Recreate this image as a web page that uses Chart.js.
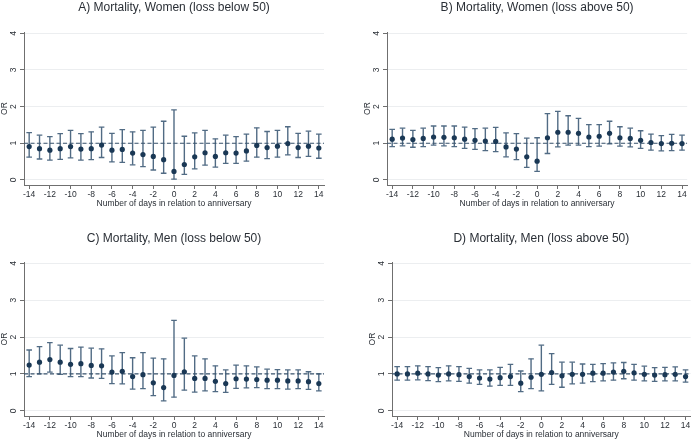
<!DOCTYPE html>
<html><head><meta charset="utf-8">
<script src="https://cdn.jsdelivr.net/npm/chart.js@4.4.0/dist/chart.umd.min.js"></script>
<style>
html,body{margin:0;padding:0;background:#fff;width:696px;height:440px;overflow:hidden;position:relative}
canvas{position:absolute}
</style></head><body>
<canvas id="cA"></canvas><canvas id="cB"></canvas><canvas id="cC"></canvas><canvas id="cD"></canvas>
<script>
const days = [-14,-13,-12,-11,-10,-9,-8,-7,-6,-5,-4,-3,-2,-1,0,1,2,3,4,5,6,7,8,9,10,11,12,13,14];
const xTickLabels = [-14,-12,-10,-8,-6,-4,-2,0,2,4,6,8,10,12,14];
const yTickLabels = [0,1,2,3,4];
const refOR = 1;
const xAxisTitle = 'Number of days in relation to anniversary';
const yAxisTitle = 'OR';
const titles = ['A) Mortality, Women (loss below 50)','B) Mortality, Women (loss above 50)','C) Mortality, Men (loss below 50)','D) Mortality, Men (loss above 50)'];

const orA = [0.91,0.85,0.81,0.85,0.91,0.84,0.85,0.95,0.81,0.83,0.73,0.69,0.64,0.55,0.23,0.42,0.63,0.74,0.64,0.74,0.73,0.79,0.94,0.88,0.92,0.99,0.88,0.92,0.87];
const loA = [0.62,0.57,0.54,0.56,0.60,0.54,0.55,0.61,0.49,0.48,0.41,0.36,0.27,0.18,0.02,0.15,0.30,0.40,0.35,0.45,0.45,0.51,0.62,0.58,0.62,0.68,0.61,0.64,0.59];
const hiA = [1.29,1.22,1.18,1.26,1.35,1.26,1.31,1.44,1.27,1.37,1.31,1.35,1.44,1.60,1.91,1.19,1.28,1.35,1.12,1.22,1.18,1.25,1.42,1.32,1.35,1.45,1.27,1.33,1.25];

const orB = [1.11,1.14,1.10,1.13,1.17,1.16,1.15,1.11,1.08,1.06,1.05,0.90,0.84,0.63,0.51,1.15,1.30,1.30,1.27,1.17,1.19,1.27,1.15,1.13,1.08,1.02,0.99,1.00,0.99];
const loB = [0.91,0.93,0.89,0.91,0.95,0.93,0.91,0.86,0.83,0.80,0.77,0.63,0.55,0.34,0.23,0.72,0.90,0.95,0.95,0.91,0.92,0.98,0.92,0.90,0.86,0.81,0.79,0.80,0.81];
const hiB = [1.38,1.41,1.35,1.41,1.47,1.47,1.47,1.44,1.40,1.41,1.43,1.28,1.26,1.14,1.15,1.81,1.87,1.75,1.68,1.51,1.51,1.60,1.45,1.41,1.34,1.25,1.21,1.24,1.22];

const orC = [1.24,1.32,1.39,1.32,1.26,1.28,1.23,1.22,1.05,1.07,0.93,0.98,0.76,0.63,0.96,1.06,0.88,0.88,0.80,0.74,0.87,0.86,0.85,0.83,0.83,0.81,0.81,0.79,0.74];
const loC = [0.93,1.00,1.05,0.99,0.93,0.93,0.89,0.88,0.74,0.73,0.59,0.60,0.41,0.27,0.37,0.56,0.51,0.54,0.52,0.50,0.61,0.62,0.63,0.60,0.60,0.59,0.60,0.58,0.54];
const hiC = [1.65,1.74,1.85,1.78,1.69,1.73,1.70,1.68,1.49,1.58,1.44,1.58,1.43,1.41,2.45,1.97,1.49,1.41,1.22,1.11,1.24,1.22,1.19,1.13,1.12,1.11,1.11,1.06,1.00];

const orD = [1.00,1.00,1.02,1.00,0.97,1.00,0.98,0.93,0.89,0.86,0.90,0.93,0.75,0.91,0.99,1.04,0.95,0.99,0.99,1.02,1.02,1.05,1.07,1.03,0.99,0.97,0.98,0.99,0.93];
const loD = [0.83,0.83,0.84,0.82,0.79,0.81,0.80,0.75,0.72,0.67,0.69,0.69,0.52,0.60,0.54,0.72,0.64,0.73,0.75,0.79,0.81,0.83,0.87,0.83,0.81,0.80,0.81,0.81,0.78];
const hiD = [1.20,1.20,1.22,1.20,1.17,1.22,1.20,1.15,1.11,1.11,1.18,1.26,1.08,1.41,1.78,1.55,1.32,1.32,1.27,1.26,1.28,1.30,1.31,1.26,1.21,1.17,1.18,1.19,1.11];

const FONT = "'Liberation Sans', Arial, sans-serif";
const TXT = '#2a2f36';
const AXIS = '#6f6f6f';
const MARK = '#1a3855';
const CI = '#516b84';
const DASH = '#3a546d';
const X_MIN = -14.5, X_MAX = 14.5, Y_MIN = -0.14, Y_MAX = 4.03;

function makeChart(id, geo, title, orv, lov, hiv) {
  const cv = document.getElementById(id);
  cv.width = geo.w; cv.height = geo.h;
  cv.style.left = geo.left + 'px'; cv.style.top = geo.top + 'px';
  const pts = days.map((d, i) => ({x: d, y: orv[i]}));
  const caps = [];
  const stems = [];
  days.forEach((d, i) => {
    caps.push({x: d, y: lov[i]}); caps.push({x: d, y: hiv[i]});
    stems.push({x: d, y: lov[i]}); stems.push({x: d, y: hiv[i]}); stems.push({x: d, y: null});
  });
  return new Chart(cv, {
    type: 'scatter',
    data: { datasets: [
      { type: 'scatter', data: pts, pointRadius: 2.6, pointBackgroundColor: MARK, pointBorderWidth: 0, order: 0 },
      { type: 'line', data: [{x: X_MIN, y: refOR}, {x: X_MAX, y: refOR}], borderColor: DASH, borderWidth: 1.2, borderDash: [4, 2.5], pointRadius: 0, order: 1 },
      { type: 'scatter', data: caps, pointStyle: 'line', pointRadius: 2.8, pointBorderColor: CI, pointBorderWidth: 1.3, order: 2 },
      { type: 'line', data: stems, borderColor: CI, borderWidth: 1.4, pointRadius: 0, spanGaps: false, order: 3 }
    ]},
    options: {
      responsive: false, animation: false, devicePixelRatio: 1,
      events: [],
      layout: { padding: { left: 0, right: geo.padR, top: 0, bottom: 0 } },
      plugins: {
        legend: { display: false }, tooltip: { enabled: false },
        title: { display: true, text: title, color: TXT, fullSize: false,
          font: { family: FONT, size: 12, weight: 'normal' }, padding: { top: 0, bottom: geo.titlePB } }
      },
      scales: {
        x: {
          type: 'linear', min: X_MIN, max: X_MAX,
          afterBuildTicks: s => { s.ticks = xTickLabels.map(v => ({value: v})); },
          afterFit: s => { s.height = 30; },
          ticks: { color: TXT, font: { family: FONT, size: 8.5 }, padding: 1, autoSkip: false, maxRotation: 0, minRotation: 0,
                   callback: v => String(v) },
          grid: { display: true, drawOnChartArea: false, drawTicks: true, tickLength: 4, tickColor: AXIS, tickWidth: 1 },
          border: { display: true, color: AXIS, width: 1 },
          title: { display: true, text: xAxisTitle, color: TXT, font: { family: FONT, size: 8.5 }, padding: { top: 0, bottom: 6.4 } }
        },
        y: {
          type: 'linear', min: Y_MIN, max: Y_MAX,
          afterBuildTicks: s => { s.ticks = yTickLabels.map(v => ({value: v})); },
          afterFit: s => { s.width = 24; },
          ticks: { color: TXT, font: { family: FONT, size: 8.5 }, padding: 4, autoSkip: false, minRotation: 90, maxRotation: 90,
                   crossAlign: 'center', callback: v => String(v) },
          grid: { display: true, drawOnChartArea: true, color: '#eceef0', lineWidth: 1, drawTicks: true, tickLength: 4, tickColor: AXIS, tickWidth: 1 },
          border: { display: true, color: AXIS, width: 1 },
          title: { display: true, text: yAxisTitle, color: TXT, font: { family: FONT, size: 8.5 }, padding: { top: 0, bottom: 0 } }
        }
      }
    }
  });
}

makeChart('cA', {left: 0, top: 0, w: 348, h: 215, padR: 24, titlePB: 17.8}, titles[0], orA, loA, hiA);
makeChart('cB', {left: 363, top: 0, w: 333, h: 215, padR: 8.8, titlePB: 17.8}, titles[1], orB, loB, hiB);
makeChart('cC', {left: 0, top: 231, w: 348, h: 215, padR: 24, titlePB: 16.8}, titles[2], orC, loC, hiC);
makeChart('cD', {left: 368, top: 231, w: 328, h: 215, padR: 2.5, titlePB: 16.8}, titles[3], orD, loD, hiD);
</script>
</body></html>
